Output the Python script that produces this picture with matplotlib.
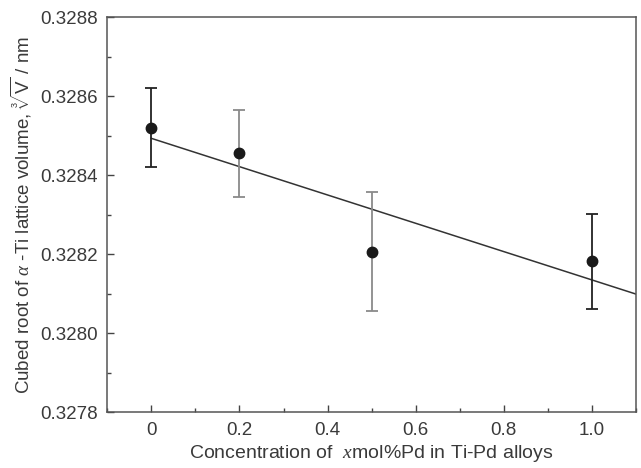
import numpy as np
import matplotlib
matplotlib.use("Agg")
import matplotlib.pyplot as plt
from matplotlib.ticker import MultipleLocator, FixedLocator

plt.rcParams['font.family'] = ['Liberation Sans', 'DejaVu Sans']
plt.rcParams['mathtext.fontset'] = 'custom'
plt.rcParams['mathtext.rm'] = 'Liberation Sans'
plt.rcParams['mathtext.it'] = 'Liberation Serif:italic'

# Data
x_conc = [0.0, 0.2, 0.5, 1.0]
y_root = [0.32852, 0.328456, 0.328207, 0.328182]
y_err = [0.00010, 0.00011, 0.00015, 0.00012]
x_ticks = [0, 0.2, 0.4, 0.6, 0.8, 1.0]
x_ticklabels = ['0', '0.2', '0.4', '0.6', '0.8', '1.0']
y_ticks = [0.3278, 0.3280, 0.3282, 0.3284, 0.3286, 0.3288]

txt = '#3a3a3a'
fig = plt.figure(figsize=(6.41, 4.68), dpi=100)
ax = fig.add_axes([0.1674, 0.119, 0.8248, 0.844])

# fitted line
slope, intercept = np.polyfit(x_conc, y_root, 1)
xf = np.array([0.0, 1.1])
ax.plot(xf, intercept + slope * xf, color='#333333', lw=1.1, zorder=2)

bar_colors = ['#222222', '#8a8a8a', '#8a8a8a', '#222222']
for xi, yi, ei, c in zip(x_conc, y_root, y_err, bar_colors):
    ax.errorbar([xi], [yi], yerr=[ei], fmt='none', ecolor=c, elinewidth=1.3,
                capsize=4.5, capthick=1.3, zorder=3)
ax.plot(x_conc, y_root, 'o', color='#1a1a1a', ms=7.5, zorder=4)

ax.set_xlim(-0.1, 1.1)
ax.set_ylim(0.3278, 0.3288)
ax.xaxis.set_major_locator(FixedLocator(x_ticks))
ax.set_xticklabels(x_ticklabels)
ax.xaxis.set_minor_locator(MultipleLocator(0.1))
ax.set_yticks(y_ticks)
ax.set_yticklabels([f'{v:.4f}' for v in y_ticks])
ax.yaxis.set_minor_locator(MultipleLocator(0.0001))

ax.tick_params(which='both', direction='in', top=False, right=False,
               colors='#444444', labelcolor=txt, labelsize=13.5)
ax.tick_params(which='major', length=5, width=1)
ax.tick_params(which='minor', length=3, width=1)
ax.tick_params(axis='x', pad=7)
ax.tick_params(axis='y', pad=7)
for s in ax.spines.values():
    s.set_color('#555555')
    s.set_linewidth(1.1)

ax.set_xlabel('Concentration of  $\\it{x}$mol%Pd in Ti-Pd alloys', fontsize=14, color=txt, labelpad=3)
ax.set_ylabel(r'Cubed root of $\mathit{\alpha}$ -Ti lattice volume, $\sqrt[3]{\mathrm{V}}$ / nm',
              fontsize=13.5, color=txt, labelpad=4)

fig.savefig('out.png', dpi=100)
